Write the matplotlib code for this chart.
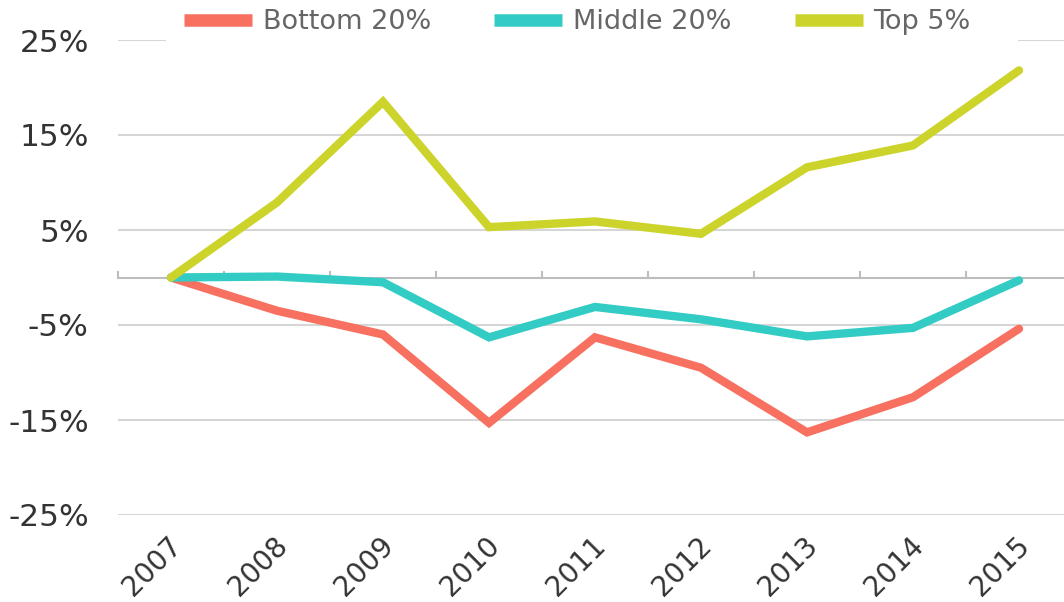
import matplotlib
matplotlib.use("Agg")
import matplotlib.pyplot as plt
import matplotlib.transforms as mtransforms
from matplotlib.lines import Line2D
from matplotlib.patches import Rectangle

years = ["2007", "2008", "2009", "2010", "2011", "2012", "2013", "2014", "2015"]
bottom20 = [0.0, -3.5, -6.0, -15.3, -6.3, -9.5, -16.3, -12.6, -5.4]
middle20 = [0.0, 0.1, -0.5, -6.3, -3.1, -4.4, -6.2, -5.3, -0.3]
top5 = [0.0, 7.9, 18.5, 5.3, 5.9, 4.6, 11.6, 13.9, 21.8]

series_names = ["Bottom 20%", "Middle 20%", "Top 5%"]
colors = ["#F87060", "#33CCC4", "#CCD42C"]
yticks = [25, 15, 5, -5, -15, -25]

W, H = 1064, 602
fig = plt.figure(figsize=(W / 100, H / 100), dpi=100)
ax = fig.add_axes([118 / W, (H - 515) / H, (W - 118) / W, (515 - 40) / H])

x = list(range(len(years)))
for vals, c in zip([bottom20, middle20, top5], colors):
    ax.plot(x, vals, color=c, lw=6, solid_capstyle="round", solid_joinstyle="miter", zorder=3)

ax.set_xlim(-0.5, (W - 171) / 106)
ax.set_ylim(-25, 25)
for s in ax.spines.values():
    s.set_visible(False)

for t in yticks:
    ax.axhline(t, color="#d6d6d6", lw=1.5, zorder=1)
ax.axhline(0, color="#bdbdbd", lw=1.5, zorder=1)
for b in [i - 0.5 for i in range(len(years) + 1)]:
    ax.plot([b, b], [0, 0.6], color="#bdbdbd", lw=1.5, zorder=1, clip_on=False)

ax.set_yticks(yticks)
ax.set_yticklabels([f"{t}%" for t in yticks])
ax.tick_params(axis="y", length=0, pad=21, labelsize=22.5, labelcolor="#333333")
ax.set_xticks(x)
ax.set_xticklabels(years, rotation=45, ha="right", va="center", rotation_mode="anchor")
ax.tick_params(axis="x", length=0, pad=17, labelsize=20, labelcolor="#333333")
offset = mtransforms.ScaledTranslation(6 / 100, -3 / 100, fig.dpi_scale_trans)
for lab in ax.get_xticklabels():
    lab.set_transform(lab.get_transform() + offset)

# white band behind the legend (covers the top gridline like the reference)
fig.add_artist(Rectangle((166 / W, (H - 46) / H), (1018 - 166) / W, 46 / H,
                         transform=fig.transFigure, facecolor="white", edgecolor="none", zorder=2))

handles = [Line2D([], [], color=c, lw=9, solid_capstyle="butt") for c in colors]
leg = fig.legend(handles, series_names, loc="center left", bbox_to_anchor=(184 / W, (H - 22) / H),
                 ncol=3, frameon=False, fontsize=19.5, handlelength=2.5, handletextpad=0.4,
                 columnspacing=2.35, borderaxespad=0, borderpad=0)
leg.set_zorder(3)
for t in leg.get_texts():
    t.set_color("#666666")

fig.savefig("out.png", dpi=100)
